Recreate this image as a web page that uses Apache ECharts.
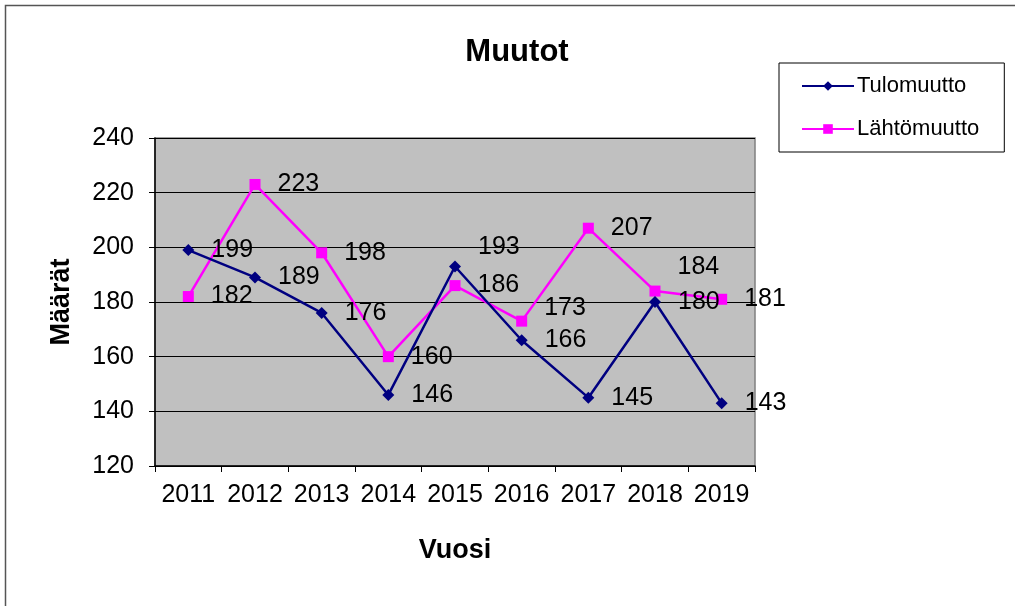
<!DOCTYPE html>
<html>
<head>
<meta charset="utf-8">
<script src="https://cdn.jsdelivr.net/npm/echarts@6/dist/echarts.min.js"></script>
<style>
  html, body { margin: 0; padding: 0; background: #fff; }
  #chart { width: 1015px; height: 606px; }
</style>
</head>
<body>
<div id="chart"></div>
<script>
// data
const years = ['2011', '2012', '2013', '2014', '2015', '2016', '2017', '2018', '2019']
const tulomuutto = [199, 189, 176, 146, 193, 166, 145, 180, 143]
const lahtomuutto = [182, 223, 198, 160, 186, 173, 207, 184, 181]

// labels that Excel pushed upward to avoid overlap (point index -> dy)
const labelNudge = {
  tulo: { 4: -19 },
  lahto: { 5: -13, 7: -24 }
}

const font = 'Liberation Sans, Arial, sans-serif'

const withNudge = (values, nudge) =>
  values.map((v, i) => (nudge[i] ? { value: v, label: { offset: [0, nudge[i]] } } : v))

const chart = echarts.init(document.getElementById('chart'))

const dataLabel = {
  show: true,
  position: 'right',
  distance: 17,
  fontSize: 25,
  color: '#000',
  fontFamily: font
}

const option = {
  animation: false,
  textStyle: { fontFamily: font },
  graphic: [
    {
      type: 'rect',
      shape: { x: 5.5, y: 5.5, width: 1100, height: 700 },
      style: { fill: 'none', stroke: '#555', lineWidth: 1.5 },
      z: -1
    }
  ],
  title: {
    text: 'Muutot',
    left: 512,
    top: 32,
    textAlign: 'center',
    textStyle: { fontFamily: font, fontSize: 31, fontWeight: 'bold', color: '#000' }
  },
  legend: {
    orient: 'vertical',
    left: 779,
    top: 63,
    padding: [12, 25, 12, 22],
    itemGap: 21,
    itemWidth: 52,
    itemHeight: 12,
    borderColor: '#000',
    borderWidth: 1,
    textStyle: { fontFamily: font, fontSize: 22, color: '#000', padding: [0, 0, 0, -2] },
    data: ['Tulomuutto', 'Lähtömuutto']
  },
  grid: {
    left: 155,
    right: 260,
    top: 138,
    bottom: 140,
    show: true,
    backgroundColor: '#c0c0c0',
    borderColor: '#808080',
    borderWidth: 1.5
  },
  xAxis: {
    type: 'category',
    data: years,
    boundaryGap: true,
    name: 'Vuosi',
    nameLocation: 'middle',
    nameGap: 71,
    nameTextStyle: { fontFamily: font, fontSize: 27, fontWeight: 'bold', color: '#000' },
    axisLine: { lineStyle: { color: '#000', width: 1.5 } },
    axisTick: { show: true, interval: 0, length: 6, lineStyle: { color: '#000' } },
    axisLabel: { interval: 0, margin: 17, fontSize: 25, color: '#000', fontFamily: font },
    splitLine: { show: false }
  },
  yAxis: {
    type: 'value',
    min: 120,
    max: 240,
    interval: 20,
    name: 'Määrät',
    nameLocation: 'middle',
    nameGap: 80,
    nameTextStyle: { fontFamily: font, fontSize: 27, fontWeight: 'bold', color: '#000' },
    axisLine: { show: true, lineStyle: { color: '#000', width: 1.5 } },
    axisTick: { show: true, length: 6, lineStyle: { color: '#000' } },
    axisLabel: { margin: 21, fontSize: 25, color: '#000', fontFamily: font },
    splitLine: { show: true, lineStyle: { color: '#000', width: 1 } }
  },
  series: [
    {
      name: 'Tulomuutto',
      type: 'line',
      data: withNudge(tulomuutto, labelNudge.tulo),
      symbol: 'diamond',
      symbolSize: 12,
      lineStyle: { color: '#000080', width: 2.5 },
      itemStyle: { color: '#000080' },
      label: dataLabel,
      z: 3
    },
    {
      name: 'Lähtömuutto',
      type: 'line',
      data: withNudge(lahtomuutto, labelNudge.lahto),
      symbol: 'rect',
      symbolSize: 11,
      lineStyle: { color: '#ff00ff', width: 2.5 },
      itemStyle: { color: '#ff00ff' },
      label: dataLabel,
      z: 2
    }
  ]
}

chart.setOption(option)
</script>
</body>
</html>
